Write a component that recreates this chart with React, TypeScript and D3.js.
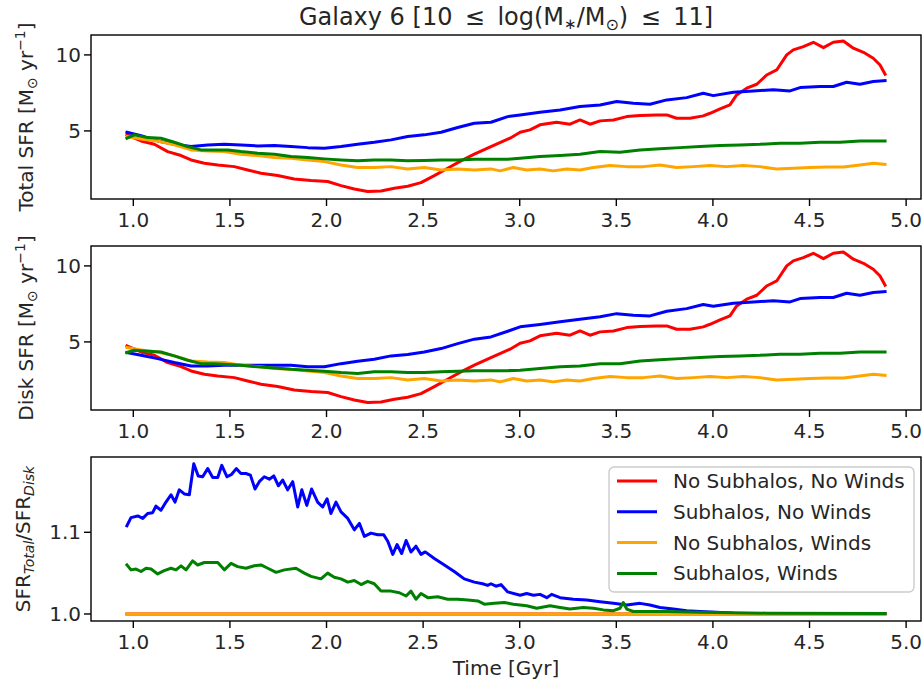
import React from "react";
import * as d3 from "d3";

type P = [number, number];

// ---------- Data (Time [Gyr], value) ----------
const totalRed: P[] = [[0.967,4.74],[1.040,4.34],[1.109,4.12],[1.178,3.64],[1.247,3.38],[1.299,3.09],[1.368,2.87],[1.437,2.76],[1.523,2.65],[1.592,2.43],[1.661,2.21],[1.747,2.06],[1.833,1.84],[1.920,1.73],[2.006,1.67],[2.075,1.40],[2.144,1.18],[2.213,1.01],[2.282,1.05],[2.351,1.23],[2.420,1.36],[2.489,1.60],[2.558,2.06],[2.627,2.54],[2.696,3.03],[2.765,3.47],[2.851,3.97],[2.950,4.52],[3.002,4.91],[3.053,5.07],[3.105,5.40],[3.191,5.57],[3.260,5.44],[3.312,5.72],[3.364,5.44],[3.416,5.66],[3.485,5.72],[3.554,5.94],[3.623,6.01],[3.709,6.05],[3.761,6.05],[3.812,5.83],[3.881,5.83],[3.950,5.99],[3.985,6.16],[4.037,6.45],[4.088,6.71],[4.123,7.37],[4.175,7.81],[4.227,8.07],[4.278,8.68],[4.330,9.01],[4.382,10.0],[4.416,10.33],[4.468,10.55],[4.520,10.83],[4.572,10.48],[4.623,10.83],[4.675,10.92],[4.727,10.44],[4.779,10.17],[4.830,9.78],[4.865,9.34],[4.891,8.73]];

const totalBlue: P[] = [[0.967,4.91],[1.040,4.69],[1.126,4.34],[1.212,4.12],[1.299,3.97],[1.385,4.08],[1.471,4.12],[1.557,4.08],[1.644,4.01],[1.730,4.04],[1.816,3.97],[1.903,3.90],[1.989,3.86],[2.075,3.97],[2.161,4.12],[2.247,4.25],[2.334,4.41],[2.420,4.63],[2.506,4.74],[2.593,4.91],[2.679,5.22],[2.765,5.50],[2.851,5.57],[2.938,5.94],[3.002,6.05],[3.105,6.23],[3.209,6.38],[3.312,6.60],[3.416,6.71],[3.502,6.93],[3.588,6.82],[3.674,6.75],[3.761,7.04],[3.864,7.19],[3.950,7.48],[4.002,7.32],[4.106,7.54],[4.209,7.63],[4.313,7.70],[4.399,7.63],[4.451,7.85],[4.554,7.92],[4.623,7.92],[4.692,8.20],[4.761,8.07],[4.830,8.25],[4.891,8.31]];

const totalOrange: P[] = [[0.967,4.63],[1.040,4.47],[1.126,4.34],[1.212,4.08],[1.299,3.75],[1.385,3.68],[1.471,3.64],[1.557,3.47],[1.644,3.38],[1.730,3.25],[1.816,3.20],[1.903,3.09],[1.989,2.98],[2.075,2.76],[2.161,2.59],[2.247,2.59],[2.334,2.65],[2.420,2.50],[2.506,2.59],[2.593,2.43],[2.679,2.50],[2.765,2.43],[2.851,2.50],[2.898,2.37],[2.967,2.59],[3.036,2.43],[3.105,2.50],[3.174,2.37],[3.243,2.50],[3.312,2.43],[3.381,2.59],[3.467,2.72],[3.554,2.65],[3.640,2.65],[3.726,2.76],[3.812,2.59],[3.899,2.65],[3.985,2.72],[4.071,2.65],[4.157,2.72],[4.244,2.65],[4.330,2.50],[4.416,2.54],[4.502,2.59],[4.589,2.63],[4.675,2.63],[4.761,2.76],[4.830,2.87],[4.891,2.80]];

const totalGreen: P[] = [[0.967,4.52],[1.005,4.74],[1.074,4.56],[1.143,4.52],[1.212,4.25],[1.281,3.97],[1.350,3.75],[1.419,3.75],[1.489,3.75],[1.557,3.64],[1.644,3.53],[1.730,3.47],[1.816,3.31],[1.903,3.25],[1.989,3.16],[2.075,3.09],[2.161,3.03],[2.247,3.09],[2.334,3.09],[2.420,3.03],[2.506,3.05],[2.593,3.09],[2.679,3.09],[2.765,3.14],[2.851,3.14],[2.938,3.14],[3.002,3.20],[3.105,3.31],[3.209,3.38],[3.312,3.47],[3.416,3.64],[3.519,3.60],[3.623,3.75],[3.726,3.82],[3.830,3.90],[3.933,3.97],[4.037,4.04],[4.140,4.08],[4.244,4.12],[4.347,4.19],[4.451,4.19],[4.554,4.25],[4.658,4.25],[4.761,4.34],[4.891,4.34]];

const diskRed: P[] = totalRed;
const diskOrange: P[] = totalOrange;

const diskBlue: P[] = [[0.967,4.30],[1.040,4.12],[1.126,3.90],[1.212,3.64],[1.299,3.42],[1.385,3.42],[1.471,3.47],[1.557,3.47],[1.644,3.47],[1.730,3.47],[1.816,3.47],[1.903,3.36],[1.989,3.36],[2.075,3.57],[2.161,3.73],[2.247,3.86],[2.334,4.08],[2.420,4.17],[2.506,4.34],[2.593,4.56],[2.679,4.89],[2.765,5.18],[2.851,5.33],[2.938,5.70],[3.002,5.99],[3.105,6.14],[3.209,6.32],[3.312,6.49],[3.416,6.65],[3.502,6.86],[3.588,6.75],[3.674,6.71],[3.761,7.02],[3.864,7.19],[3.950,7.46],[4.002,7.35],[4.106,7.54],[4.209,7.63],[4.313,7.70],[4.399,7.63],[4.451,7.85],[4.554,7.92],[4.623,7.92],[4.692,8.20],[4.761,8.07],[4.830,8.25],[4.891,8.31]];

const diskGreen: P[] = [[0.967,4.30],[1.005,4.45],[1.074,4.39],[1.143,4.34],[1.212,4.08],[1.281,3.79],[1.350,3.57],[1.419,3.57],[1.489,3.51],[1.557,3.47],[1.644,3.36],[1.730,3.29],[1.816,3.20],[1.903,3.14],[1.989,3.07],[2.075,2.98],[2.161,2.92],[2.247,3.03],[2.334,3.03],[2.420,2.98],[2.506,2.98],[2.593,3.03],[2.679,3.07],[2.765,3.11],[2.851,3.11],[2.938,3.11],[3.002,3.14],[3.105,3.25],[3.209,3.36],[3.312,3.42],[3.416,3.57],[3.519,3.57],[3.623,3.75],[3.726,3.82],[3.830,3.90],[3.933,3.97],[4.037,4.04],[4.140,4.08],[4.244,4.12],[4.347,4.19],[4.451,4.19],[4.554,4.25],[4.658,4.25],[4.761,4.34],[4.891,4.34]];

const ratioRed: P[] = [[0.967,1.0],[4.891,1.0]];
const ratioOrange: P[] = [[0.967,1.0],[4.891,1.0]];

const ratioBlue: P[] = [[0.967,1.108],[0.988,1.118],[1.023,1.120],[1.049,1.117],[1.074,1.123],[1.100,1.124],[1.117,1.132],[1.143,1.127],[1.169,1.137],[1.195,1.146],[1.216,1.137],[1.238,1.152],[1.264,1.147],[1.290,1.146],[1.313,1.184],[1.336,1.169],[1.359,1.168],[1.385,1.178],[1.411,1.167],[1.437,1.167],[1.458,1.182],[1.485,1.168],[1.509,1.171],[1.533,1.178],[1.557,1.172],[1.583,1.172],[1.606,1.170],[1.630,1.153],[1.652,1.162],[1.678,1.168],[1.704,1.165],[1.727,1.169],[1.751,1.157],[1.773,1.164],[1.799,1.152],[1.825,1.162],[1.851,1.131],[1.872,1.152],[1.898,1.133],[1.923,1.153],[1.954,1.137],[1.980,1.131],[2.003,1.141],[2.023,1.123],[2.049,1.137],[2.075,1.125],[2.110,1.117],[2.144,1.103],[2.170,1.111],[2.196,1.095],[2.230,1.099],[2.265,1.097],[2.296,1.097],[2.317,1.089],[2.343,1.073],[2.365,1.085],[2.389,1.074],[2.412,1.090],[2.437,1.076],[2.463,1.083],[2.489,1.073],[2.511,1.076],[2.558,1.068],[2.610,1.060],[2.661,1.052],[2.713,1.043],[2.765,1.039],[2.808,1.037],[2.834,1.035],[2.851,1.037],[2.877,1.034],[2.903,1.036],[2.938,1.027],[3.002,1.023],[3.036,1.025],[3.071,1.023],[3.105,1.024],[3.140,1.020],[3.165,1.024],[3.209,1.020],[3.278,1.018],[3.347,1.017],[3.416,1.015],[3.485,1.013],[3.554,1.011],[3.623,1.013],[3.674,1.011],[3.726,1.008],[3.795,1.006],[3.864,1.004],[3.933,1.003],[4.019,1.002],[4.106,1.001],[4.278,1.0005],[4.891,1.0005]];

const ratioGreen: P[] = [[0.967,1.060],[0.988,1.054],[1.014,1.055],[1.040,1.052],[1.066,1.056],[1.092,1.055],[1.126,1.049],[1.160,1.053],[1.195,1.056],[1.221,1.054],[1.247,1.059],[1.273,1.054],[1.307,1.065],[1.333,1.060],[1.368,1.063],[1.437,1.063],[1.471,1.054],[1.506,1.062],[1.540,1.058],[1.583,1.056],[1.626,1.059],[1.661,1.060],[1.696,1.056],[1.739,1.051],[1.782,1.054],[1.842,1.056],[1.885,1.050],[1.920,1.046],[1.971,1.043],[2.006,1.050],[2.040,1.045],[2.075,1.043],[2.110,1.039],[2.144,1.041],[2.179,1.036],[2.213,1.040],[2.247,1.037],[2.282,1.028],[2.334,1.028],[2.377,1.026],[2.412,1.022],[2.437,1.028],[2.463,1.018],[2.489,1.025],[2.524,1.020],[2.576,1.021],[2.627,1.018],[2.679,1.018],[2.731,1.017],[2.783,1.016],[2.817,1.012],[2.869,1.013],[2.920,1.014],[2.967,1.012],[3.036,1.010],[3.088,1.007],[3.157,1.010],[3.209,1.008],[3.260,1.006],[3.329,1.008],[3.381,1.007],[3.433,1.005],[3.485,1.004],[3.519,1.007],[3.536,1.014],[3.554,1.006],[3.588,1.003],[3.761,1.003],[3.933,1.002],[4.278,1.001],[4.891,1.0005]];

const seriesNames = ["No Subhalos, No Winds", "Subhalos, No Winds", "No Subhalos, Winds", "Subhalos, Winds"];
const seriesColors = ["#ff0000", "#0000ff", "#ffa500", "#008000"];
const xTicks = [1.0, 1.5, 2.0, 2.5, 3.0, 3.5, 4.0, 4.5, 5.0];
const sfrTicks = [5, 10];
const ratioTicks = [1.0, 1.1];

// ---------- Layout ----------
const W = 924, H = 691;
const LEFT = 91, RIGHT = 921;
const PH = 164;
const TOPS = [35, 246, 457];
const FONT = "'DejaVu Sans', sans-serif";
const FS = 20;

const x = d3.scaleLinear().domain([0.781, 5.077]).range([LEFT, RIGHT]);

type PanelProps = {
  top: number;
  y: d3.ScaleLinear<number, number>;
  series: P[][];
  yTicks: number[];
  yFmt: (v: number) => string;
};

function Panel({ top, y, series, yTicks, yFmt }: PanelProps) {
  const bottom = top + PH;
  const line = d3.line<P>().x((d) => x(d[0])).y((d) => y(d[1]));
  return (
    <g>
      {series.map((s, i) => (
        <path key={i} d={line(s) || ""} fill="none" stroke={seriesColors[i]} strokeWidth={3}
          strokeLinejoin="round" strokeLinecap="square" />
      ))}
      <rect x={LEFT} y={top} width={RIGHT - LEFT} height={PH} fill="none" stroke="#000" strokeWidth={1.4} />
      {xTicks.map((t) => (
        <g key={t}>
          <line x1={x(t)} x2={x(t)} y1={bottom} y2={bottom + 7} stroke="#000" strokeWidth={1.4} />
          <text x={x(t)} y={bottom + 28} textAnchor="middle" fontSize={FS} fill="#262626">{t.toFixed(1)}</text>
        </g>
      ))}
      {yTicks.map((v) => (
        <g key={v}>
          <line x1={LEFT - 7} x2={LEFT} y1={y(v)} y2={y(v)} stroke="#000" strokeWidth={1.4} />
          <text x={LEFT - 10} y={y(v) + 7} textAnchor="end" fontSize={FS} fill="#262626">{yFmt(v)}</text>
        </g>
      ))}
    </g>
  );
}

export default function App() {
  const y1 = d3.scaleLinear().domain([0.52, 11.31]).range([TOPS[0] + PH, TOPS[0]]);
  const y2 = d3.scaleLinear().domain([0.52, 11.31]).range([TOPS[1] + PH, TOPS[1]]);
  const y3 = d3.scaleLinear().domain([0.9914, 1.1922]).range([TOPS[2] + PH, TOPS[2]]);

  const legX = 609, legY = 467, legW = 305, legH = 125;
  const rowY = (i: number) => 481 + i * 30.8;

  return (
    <svg width={W} height={H} style={{ position: "absolute", left: 0, top: 0, background: "#fff" }}
      fontFamily={FONT}>
      <rect x={0} y={0} width={W} height={H} fill="#fff" />
      {/* Title */}
      <text x={(LEFT + RIGHT) / 2} y={25} textAnchor="middle" fontSize={24} fill="#262626">
        Galaxy 6 [10 {"\u2009≤\u2009"} log(M<tspan dy={4} fontSize={15}>∗</tspan><tspan dy={-4}>/M</tspan><tspan dy={5} fontSize={16}>⊙</tspan><tspan dy={-5}>) {"\u2009≤\u2009"} 11]</tspan>
      </text>

      <Panel top={TOPS[0]} y={y1} series={[totalRed, totalBlue, totalOrange, totalGreen]} yTicks={sfrTicks} yFmt={(v) => String(v)} />
      <Panel top={TOPS[1]} y={y2} series={[diskRed, diskBlue, diskOrange, diskGreen]} yTicks={sfrTicks} yFmt={(v) => String(v)} />
      <Panel top={TOPS[2]} y={y3} series={[ratioRed, ratioBlue, ratioOrange, ratioGreen]} yTicks={ratioTicks} yFmt={(v) => v.toFixed(1)} />

      {/* Y labels */}
      <text transform={`translate(33,${TOPS[0] + PH / 2}) rotate(-90)`} textAnchor="middle" fontSize={FS} fill="#262626">
        Total SFR [M<tspan dy={4} fontSize={14}>⊙</tspan><tspan dy={-4}> yr</tspan><tspan dy={-8} fontSize={14}>−1</tspan><tspan dy={8}>]</tspan>
      </text>
      <text transform={`translate(33,${TOPS[1] + PH / 2}) rotate(-90)`} textAnchor="middle" fontSize={FS} fill="#262626">
        Disk SFR [M<tspan dy={4} fontSize={14}>⊙</tspan><tspan dy={-4}> yr</tspan><tspan dy={-8} fontSize={14}>−1</tspan><tspan dy={8}>]</tspan>
      </text>
      <text transform={`translate(30,${TOPS[2] + PH / 2}) rotate(-90)`} textAnchor="middle" fontSize={FS} fill="#262626">
        SFR<tspan dy={4} fontSize={14} fontStyle="italic">Total</tspan><tspan dy={-4}>/SFR</tspan><tspan dy={4} fontSize={14} fontStyle="italic">Disk</tspan>
      </text>

      {/* X label */}
      <text x={(LEFT + RIGHT) / 2} y={675} textAnchor="middle" fontSize={FS} fill="#262626">Time [Gyr]</text>

      {/* Legend */}
      <rect x={legX} y={legY} width={legW} height={legH} rx={5} fill="#fff" fillOpacity={0.8} stroke="#cccccc" strokeWidth={1.4} />
      {seriesNames.map((n, i) => (
        <g key={n}>
          <line x1={617} x2={657} y1={rowY(i)} y2={rowY(i)} stroke={seriesColors[i]} strokeWidth={3} />
          <text x={673} y={rowY(i) + 7} fontSize={FS} fill="#262626">{n}</text>
        </g>
      ))}
    </svg>
  );
}
